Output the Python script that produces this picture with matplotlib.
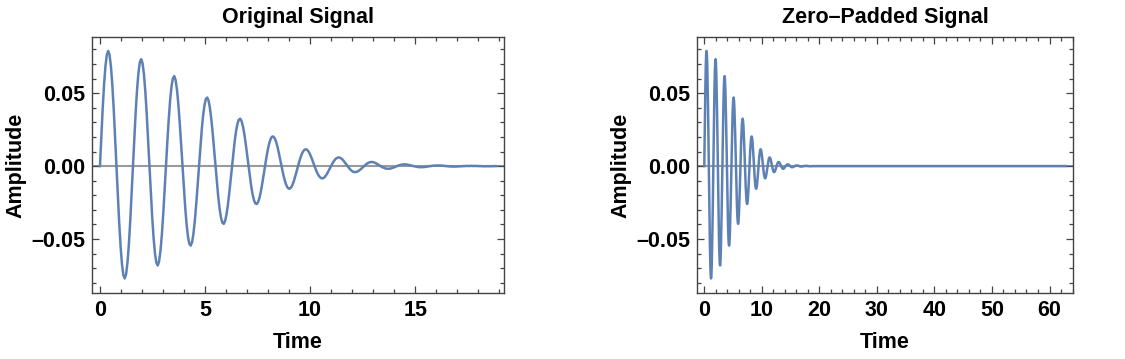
import numpy as np
import matplotlib
matplotlib.use("Agg")
import matplotlib.pyplot as plt
from matplotlib.ticker import MultipleLocator, FuncFormatter

# samples of the damped signal (units of 1e-4),
# one row per half period
dt = np.pi / 48
amplitude_e4 = [
    0, 205, 396, 560, 685, 763, 790, 762, 682, 556, 393, 203,
    0, -202, -389, -549, -671, -746, -770, -742, -663, -539, -380, -196,
    0, 194, 374, 526, 641, 712, 733, 704, 628, 510, 359, 185,
    0, -182, -350, -492, -598, -662, -681, -653, -581, -471, -330, -170,
    0, 167, 320, 448, 544, 601, 617, 590, 524, 424, 297, 152,
    0, -149, -285, -399, -483, -533, -545, -521, -461, -372, -260, -133,
    0, 130, 248, 346, 418, 460, 470, 448, 396, 319, 223, 114,
    0, -110, -210, -293, -353, -388, -396, -376, -332, -267, -186, -95,
    0, 92, 174, 242, 291, 319, 325, 308, 271, 218, 151, 77,
    0, -74, -140, -195, -234, -256, -260, -246, -217, -173, -120, -61,
    0, 58, 111, 153, 184, 201, 203, 192, 169, 135, 93, 47,
    0, -45, -85, -118, -141, -153, -155, -146, -128, -102, -70, -36,
    0, 34, 64, 88, 105, 114, 115, 108, 95, 75, 52, 26,
    0, -25, -47, -64, -76, -83, -84, -79, -68, -54, -37, -19,
    0, 18, 33, 46, 54, 59, 59, 55, 48, 38, 26, 13,
    0, -12, -23, -32, -38, -41, -41, -38, -33, -26, -18, -9,
    0, 8, 16, 22, 26, 28, 28, 26, 22, 18, 12, 6,
    0, -6, -10, -14, -17, -18, -18, -17, -15, -11, -8, -4,
    0, 4, 7, 9, 11, 12, 12, 11, 9, 7, 5, 2,
    0, -2, -4, -6, -7, -7, -7, -7, -6, -5, -3, -2,
    0, 1, 3, 3, 4, 4, 4, 4, 4, 3, 2, 1,
    0, -1, -2, -2, -3, -3, -3, -3, -2, -2, -1, -1,
    0, 0, 1, 1, 1, 1, 2, 1, 1, 1, 1, 0,
    0, 0, -1, -1, -1, -1, -1, -1, -1, -1, 0, 0,
    0,
]
padded_length = 961

titles = ["Original Signal", "Zero\u2013Padded Signal"]
x_label = "Time"
y_label = "Amplitude"

signal = np.array(amplitude_e4) * 1e-4
t = np.arange(len(signal)) * dt
padded = np.concatenate([signal, np.zeros(padded_length - len(signal))])
t_padded = np.arange(padded_length) * dt

plt.rcParams['font.family'] = ['Liberation Sans', 'DejaVu Sans']
plt.rcParams['font.weight'] = 'bold'

line_color = '#5E81B5'
frame_color = '#444444'

fig = plt.figure(figsize=(11.25, 3.59), dpi=100)
ax1 = fig.add_axes([0.0818, 0.1838, 0.3662, 0.7131])
ax2 = fig.add_axes([0.6196, 0.1838, 0.3342, 0.7131])


def fmt_y(v, pos):
    # long dash for negatives, like the original
    s = f"{abs(v):.2f}"
    return "\u2013" + s if v < -1e-9 else s


def style_axes(ax, xs, ys, title, xmaj, xmin):
    ax.axhline(0, color='#9a9a9a', lw=1.5, zorder=1)
    ax.plot(xs, ys, color=line_color, lw=1.8, zorder=2,
            solid_joinstyle='round')
    span = xs[-1] - xs[0]
    ax.set_xlim(xs[0] - 0.02 * span, xs[-1] + 0.02 * span)
    ax.set_ylim(-0.087, 0.0885)
    ax.xaxis.set_major_locator(MultipleLocator(xmaj))
    ax.xaxis.set_minor_locator(MultipleLocator(xmin))
    ax.yaxis.set_major_locator(MultipleLocator(0.05))
    ax.yaxis.set_minor_locator(MultipleLocator(0.01))
    ax.yaxis.set_major_formatter(FuncFormatter(fmt_y))
    ax.tick_params(which='both', direction='in', top=True, right=True,
                   color=frame_color, width=0.9)
    ax.tick_params(which='major', length=5, labelsize=15.5, pad=5)
    ax.tick_params(which='minor', length=2.8)
    for s in ax.spines.values():
        s.set_color(frame_color)
        s.set_linewidth(1.0)
    ax.set_title(title, fontsize=15.5, fontweight='bold', pad=10)
    ax.set_xlabel(x_label, fontsize=15.5, fontweight='bold', labelpad=8)
    ax.set_ylabel(y_label, fontsize=15.5, fontweight='bold', labelpad=3)


style_axes(ax1, t, signal, titles[0], 5, 1)
style_axes(ax2, t_padded, padded, titles[1], 10, 2)

fig.savefig("out.png", dpi=100)
plt.close(fig)
